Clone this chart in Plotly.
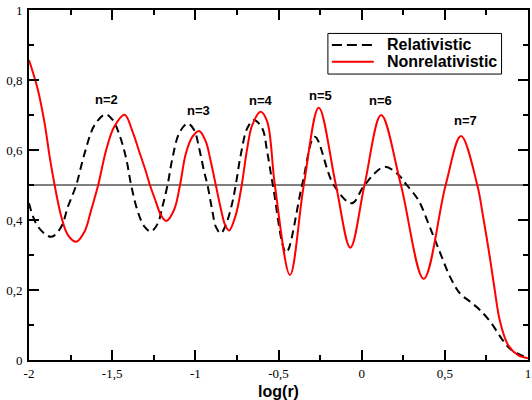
import plotly.graph_objects as go

# Relativistic radial probability curve (dashed)
rel_logr = [-2.000, -1.946, -1.866, -1.806, -1.766, -1.716, -1.666, -1.606, -1.540, -1.497,
            -1.456, -1.416, -1.386, -1.346, -1.306, -1.267, -1.227, -1.197, -1.167, -1.137,
            -1.097, -1.047, -1.007, -0.977, -0.947, -0.927, -0.897, -0.877, -0.847, -0.817,
            -0.781, -0.757, -0.727, -0.688, -0.648, -0.598, -0.568, -0.534, -0.454, -0.358,
            -0.282, -0.168, -0.059, 0.017, 0.137, 0.221, 0.271, 0.341, 0.401, 0.441,
            0.481, 0.531, 0.591, 0.651, 0.711, 0.780, 0.840, 0.900, 1.000]
rel_val = [0.448, 0.381, 0.352, 0.381, 0.438, 0.500, 0.590, 0.671, 0.702, 0.686,
           0.643, 0.576, 0.500, 0.424, 0.381, 0.367, 0.389, 0.440, 0.500, 0.578,
           0.648, 0.676, 0.657, 0.605, 0.538, 0.500, 0.424, 0.381, 0.362, 0.386,
           0.443, 0.500, 0.586, 0.662, 0.686, 0.662, 0.595, 0.500, 0.307, 0.500,
           0.638, 0.500, 0.448, 0.500, 0.552, 0.529, 0.500, 0.457, 0.390, 0.343,
           0.295, 0.238, 0.190, 0.167, 0.143, 0.105, 0.062, 0.029, 0.005]

# Nonrelativistic radial probability curve (solid red)
nonrel_logr = [-2.000, -1.946, -1.906, -1.876, -1.846, -1.806, -1.766, -1.716, -1.666, -1.626,
               -1.584, -1.536, -1.487, -1.425, -1.377, -1.337, -1.297, -1.273, -1.237, -1.207,
               -1.175, -1.127, -1.092, -1.057, -1.017, -0.977, -0.937, -0.907, -0.877, -0.847,
               -0.821, -0.797, -0.757, -0.721, -0.688, -0.658, -0.608, -0.568, -0.522, -0.431,
               -0.348, -0.258, -0.155, -0.068, 0.017, 0.117, 0.236, 0.373, 0.505, 0.597,
               0.695, 0.730, 0.770, 0.800, 0.830, 0.880, 0.940, 1.000]
nonrel_val = [0.857, 0.771, 0.676, 0.581, 0.500, 0.410, 0.357, 0.338, 0.367, 0.429,
              0.500, 0.600, 0.667, 0.701, 0.652, 0.595, 0.538, 0.500, 0.452, 0.414,
              0.397, 0.430, 0.500, 0.590, 0.638, 0.654, 0.624, 0.567, 0.500, 0.433,
              0.386, 0.370, 0.414, 0.500, 0.605, 0.671, 0.709, 0.681, 0.500, 0.243,
              0.500, 0.721, 0.500, 0.321, 0.500, 0.700, 0.500, 0.232, 0.500, 0.640,
              0.500, 0.410, 0.295, 0.200, 0.114, 0.043, 0.014, 0.005]

# Shell labels
shell_text = ["n=2", "n=3", "n=4", "n=5", "n=6", "n=7"]
shell_x = [-1.536, -0.983, -0.605, -0.246, 0.113, 0.623]
shell_y = [0.743, 0.712, 0.741, 0.757, 0.741, 0.684]

# Axis ticks
x_tickvals = [-2, -1.5, -1, -0.5, 0, 0.5, 1]
x_ticktext = ["-2", "-1,5", "-1", "-0,5", "0", "0,5", "1"]
y_tickvals = [0, 0.2, 0.4, 0.6, 0.8, 1.0]
y_ticktext = ["0", "0,2", "0,4", "0,6", "0,8", "1"]

series_names = ["Relativistic", "Nonrelativistic"]

SANS = "Liberation Sans, Arial, sans-serif"
SERIF = "Liberation Serif, Times New Roman, serif"
DASH = "8px,5px"

fig = go.Figure()
fig.add_trace(go.Scatter(
    x=rel_logr, y=rel_val, mode="lines", name=series_names[0],
    line=dict(color="black", width=2, dash=DASH, shape="spline", smoothing=1.0),
))
fig.add_trace(go.Scatter(
    x=nonrel_logr, y=nonrel_val, mode="lines", name=series_names[1],
    line=dict(color="#ff0000", width=2, shape="spline", smoothing=1.0),
))

for t, xv, yv in zip(shell_text, shell_x, shell_y):
    fig.add_annotation(x=xv, y=yv, text=t, showarrow=False,
                       xanchor="center", yanchor="middle",
                       font=dict(family=SANS, size=13, color="black", weight="bold"))

# reference level at 0.5
fig.add_shape(type="line", xref="paper", x0=0, x1=1, yref="y", y0=0.5, y1=0.5,
              line=dict(color="black", width=1), layer="below")

# boxed key in the upper right of the plot area
fig.add_shape(type="rect", xref="paper", yref="paper",
              x0=0.599, x1=0.947, y0=0.817, y1=0.933,
              line=dict(color="black", width=1), fillcolor="white", layer="above")
key_rows = [(0.900, "black", "10px,5px"), (0.852, "#ff0000", "solid")]
for (ky, kcol, kdash), kname in zip(key_rows, series_names):
    fig.add_shape(type="line", xref="paper", yref="paper",
                  x0=0.607, x1=0.691, y0=ky, y1=ky,
                  line=dict(color=kcol, width=2, dash=kdash), layer="above")
    fig.add_annotation(xref="paper", yref="paper", x=0.713, y=ky, text=kname,
                       showarrow=False, xanchor="left", yanchor="middle",
                       font=dict(family=SANS, size=16, color="black", weight="bold"))

axis_common = dict(
    showline=True, linewidth=2, linecolor="black", mirror="ticks",
    ticks="inside", ticklen=10, tickwidth=1.5, tickcolor="black",
    showgrid=False, zeroline=False,
    tickfont=dict(family=SERIF, size=13, color="black"),
)

fig.update_xaxes(
    range=[-2, 1], tickmode="array", tickvals=x_tickvals, ticktext=x_ticktext,
    minor=dict(tick0=-2, dtick=0.25, ticks="inside", ticklen=5, tickwidth=1.5,
               tickcolor="black", showgrid=False),
    title=dict(text="log(r)", standoff=6,
               font=dict(family=SANS, size=16, color="black", weight="bold")),
    **axis_common,
)
fig.update_yaxes(
    range=[0, 1], tickmode="array", tickvals=y_tickvals, ticktext=y_ticktext,
    minor=dict(tick0=0, dtick=0.1, ticks="inside", ticklen=5, tickwidth=1.5,
               tickcolor="black", showgrid=False),
    ticklabelstandoff=2,
    **axis_common,
)

fig.update_layout(
    width=532, height=400,
    margin=dict(l=29, r=2, t=10, b=40),
    plot_bgcolor="white", paper_bgcolor="white",
    showlegend=False,
)

fig.write_html("out.html")
